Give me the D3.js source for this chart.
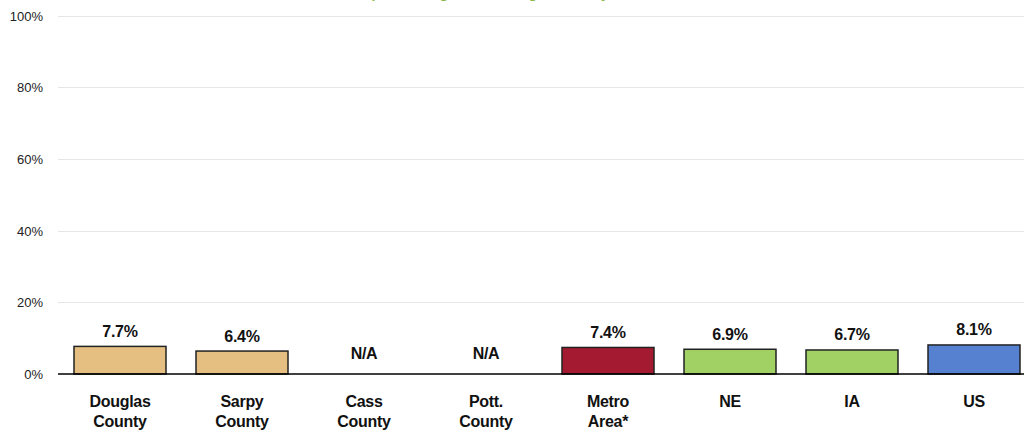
<!DOCTYPE html>
<html>
<head>
<meta charset="utf-8">
<script src="https://cdn.jsdelivr.net/npm/d3@7"></script>
<style>
  html, body { margin: 0; padding: 0; background: #fff; }
  svg { display: block; font-family: "Liberation Sans", Arial, sans-serif; }
</style>
</head>
<body>
<svg id="chart" width="1024" height="432"></svg>
<script>
const categories = ["Douglas County", "Sarpy County", "Cass County", "Pott. County", "Metro Area*", "NE", "IA", "US"];
const categoryLines = [["Douglas", "County"], ["Sarpy", "County"], ["Cass", "County"], ["Pott.", "County"], ["Metro", "Area*"], ["NE"], ["IA"], ["US"]];
const values = [7.7, 6.4, null, null, 7.4, 6.9, 6.7, 8.1];
const valueLabels = ["7.7%", "6.4%", "N/A", "N/A", "7.4%", "6.9%", "6.7%", "8.1%"];
const barColors = ["#E5BF81", "#E5BF81", "#E5BF81", "#E5BF81", "#A41A30", "#A1D064", "#A1D064", "#5680D0"];
const yTicks = [0, 20, 40, 60, 80, 100];
const titleText = "Percent of Population Aged 65+ Living in Poverty";

const svg = d3.select("#chart");

const x = d3.scaleBand()
  .domain(categories)
  .range([59, 1035])
  .paddingInner(30 / 122)
  .paddingOuter(15 / 122);

const y = d3.scaleLinear().domain([0, 100]).range([374, 15.5]);

// title (almost entirely above the view, as in the reference)
svg.append("text")
  .attr("x", 445)
  .attr("y", -2.5)
  .attr("text-anchor", "middle")
  .attr("font-size", 14)
  .attr("font-weight", "bold")
  .attr("fill", "#8DB852")
  .text(titleText);

// gridlines
svg.append("g")
  .selectAll("line")
  .data(yTicks.filter(d => d > 0))
  .join("line")
  .attr("x1", 58).attr("x2", 1024)
  .attr("y1", d => Math.round(y(d)) + 0.5)
  .attr("y2", d => Math.round(y(d)) + 0.5)
  .attr("stroke", "#e6e6e6")
  .attr("stroke-width", 1);

// y tick labels
svg.append("g")
  .selectAll("text")
  .data(yTicks)
  .join("text")
  .attr("x", 43)
  .attr("y", d => y(d) + 5)
  .attr("text-anchor", "end")
  .attr("font-size", 13)
  .attr("fill", "#222")
  .text(d => d + "%");

// bars
const barData = categories.map((c, i) => ({ c, v: values[i], label: valueLabels[i], color: barColors[i], lines: categoryLines[i] }));

svg.append("g")
  .selectAll("rect")
  .data(barData.filter(d => d.v !== null))
  .join("rect")
  .attr("x", d => x(d.c))
  .attr("y", d => y(d.v))
  .attr("width", x.bandwidth())
  .attr("height", d => y(0) - y(d.v))
  .attr("fill", d => d.color)
  .attr("stroke", "#222")
  .attr("stroke-width", 1.5);

// axis line
svg.append("line")
  .attr("x1", 58).attr("x2", 1024)
  .attr("y1", y(0)).attr("y2", y(0))
  .attr("stroke", "#000")
  .attr("stroke-width", 1.5);

// value labels
svg.append("g")
  .selectAll("text")
  .data(barData)
  .join("text")
  .attr("x", d => x(d.c) + x.bandwidth() / 2)
  .attr("y", d => d.v === null ? y(0) - 15 : y(d.v) - 9.5)
  .attr("text-anchor", "middle")
  .attr("font-size", 16)
  .attr("letter-spacing", -0.3)
  .attr("font-weight", "bold")
  .attr("fill", "#111")
  .text(d => d.label);

// category labels
const cat = svg.append("g")
  .selectAll("text")
  .data(barData)
  .join("text")
  .attr("x", d => x(d.c) + x.bandwidth() / 2)
  .attr("y", 407)
  .attr("text-anchor", "middle")
  .attr("font-size", 16)
  .attr("letter-spacing", -0.3)
  .attr("font-weight", "bold")
  .attr("fill", "#111");

cat.selectAll("tspan")
  .data(d => d.lines.map(l => ({ l, x: x(d.c) + x.bandwidth() / 2 })))
  .join("tspan")
  .attr("x", d => d.x)
  .attr("dy", (d, i) => i === 0 ? 0 : 20)
  .text(d => d.l);
</script>
</body>
</html>
